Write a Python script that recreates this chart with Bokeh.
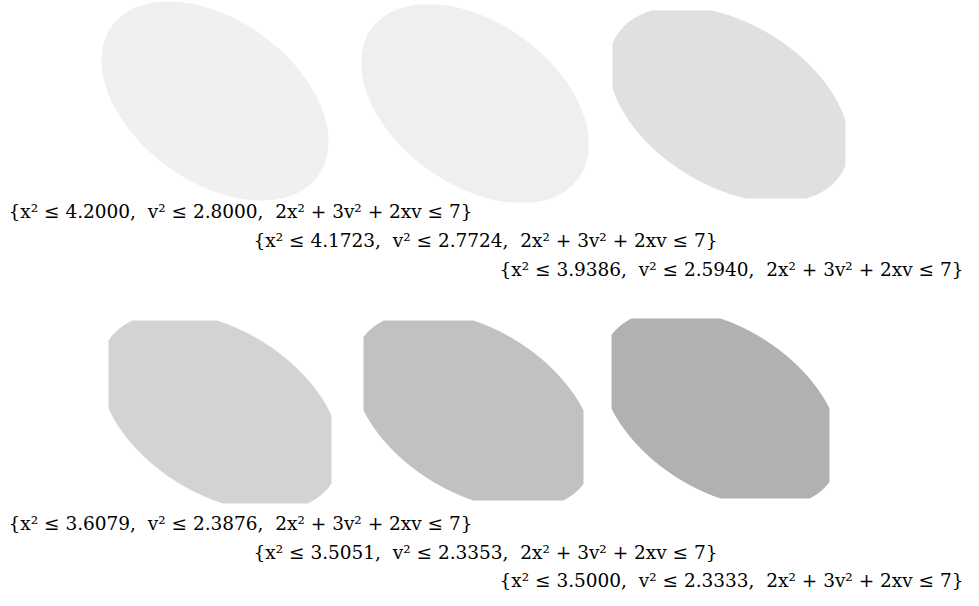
import numpy as np
from bokeh.plotting import figure
from bokeh.models import Range1d, ColumnDataSource
from bokeh.embed import file_html
from bokeh.resources import INLINE
from bokeh.core.properties import value

# ---- data ----
x_sq_bounds = [4.2000, 4.1723, 3.9386, 3.6079, 3.5051, 3.5000]
v_sq_bounds = [2.8000, 2.7724, 2.5940, 2.3876, 2.3353, 2.3333]
ellipse_coef = [2, 3, 2]   # 2x^2 + 3v^2 + 2xv
ellipse_rhs = 7
fill_colors = ["#f0f0f0", "#efefef", "#e0e0e0", "#d3d3d3", "#c1c1c1", "#b1b1b1"]
labels = [
    ("{x\u00b2 \u2264 %.4f,\u00a0\u00a0v\u00b2 \u2264 %.4f,\u00a0\u00a02x\u00b2 + 3v\u00b2 + 2xv \u2264 7}" % (a, b))
    for a, b in zip(x_sq_bounds, v_sq_bounds)
]

# ---- layout (reference pixel coordinates, y downward) ----
W, H = 963, 590
X0, Y0 = 0, 0
# pixel boxes of each region: (left, right, top, bottom)
boxes = [(101, 328, 1, 200), (361, 588, 4, 202), (612, 845, 10, 198),
         (108, 331, 320, 503), (363, 583, 320, 500), (611, 829, 318, 498)]
label_pos = [(240, 211), (485, 240), (731, 269), (240, 523), (485, 552), (731, 580)]

p = figure(width=W, height=H, output_backend="svg", toolbar_location=None,
           x_range=Range1d(X0, X0 + W), y_range=Range1d(Y0 + H, Y0),
           x_axis_location=None, y_axis_location=None, min_border=0)
p.outline_line_color = None
p.xgrid.visible = False
p.ygrid.visible = False
p.background_fill_color = "white"
p.border_fill_color = "white"

a, b, c = ellipse_coef
theta = np.linspace(0, 2 * np.pi, 1441)
ct, st = np.cos(theta), np.sin(theta)
r_ell = np.sqrt(ellipse_rhs / (a * ct**2 + b * st**2 + c * ct * st))

for i, (xs2, vs2) in enumerate(zip(x_sq_bounds, v_sq_bounds)):
    X, V = np.sqrt(xs2), np.sqrt(vs2)
    with np.errstate(divide="ignore"):
        rx = np.where(np.abs(ct) > 1e-12, X / np.abs(ct), np.inf)
        rv = np.where(np.abs(st) > 1e-12, V / np.abs(st), np.inf)
    r = np.minimum(r_ell, np.minimum(rx, rv))
    px, pv = r * ct, r * st
    ex, ev = px.max(), pv.max()
    L, R, T, B = boxes[i]
    sx = (R - L) / (2 * ex)
    sy = (B - T) / (2 * ev)
    xs = -ex - (L - X0) / sx
    ys = -ev - (Y0 + H - B) / sy
    p.extra_x_ranges["x%d" % i] = Range1d(xs, xs + W / sx)
    p.extra_y_ranges["y%d" % i] = Range1d(ys, ys + H / sy)
    p.patch(px, pv, fill_color=fill_colors[i], line_color=None,
            x_range_name="x%d" % i, y_range_name="y%d" % i)

src = ColumnDataSource(dict(x=[q[0] for q in label_pos], y=[q[1] for q in label_pos], t=labels))
p.text(x="x", y="y", text="t", source=src, text_font=value("DejaVu Serif"),
       text_font_size="18.5px", text_align="center", text_baseline="middle", text_color="black")

html = file_html(p, INLINE)
open("out.html", "w").write(html)
